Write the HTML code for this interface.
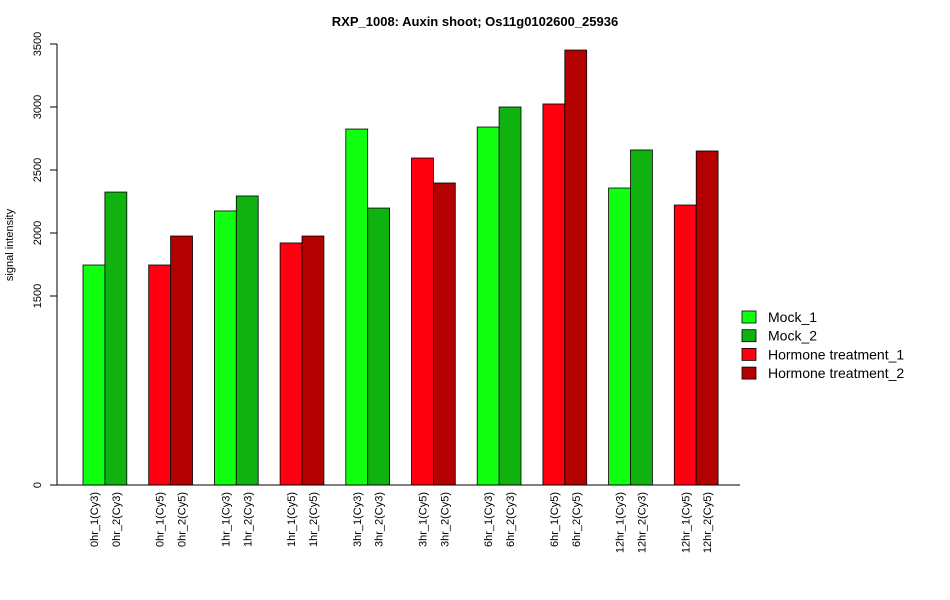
<!DOCTYPE html>
<html><head><meta charset="utf-8"><style>
body{margin:0;background:#fff}
svg{display:block;font-family:"Liberation Sans",Arial,sans-serif}
</style></head><body>
<svg id="c" width="950" height="600"></svg>
<script>
const categories=["0hr_1(Cy3)","0hr_2(Cy3)","0hr_1(Cy5)","0hr_2(Cy5)","1hr_1(Cy3)","1hr_2(Cy3)","1hr_1(Cy5)","1hr_2(Cy5)","3hr_1(Cy3)","3hr_2(Cy3)","3hr_1(Cy5)","3hr_2(Cy5)","6hr_1(Cy3)","6hr_2(Cy3)","6hr_1(Cy5)","6hr_2(Cy5)","12hr_1(Cy3)","12hr_2(Cy3)","12hr_1(Cy5)","12hr_2(Cy5)"];
const values=[1746,2325,1746,1976,2175,2294,1921,1976,2825,2198,2595,2397,2841,3000,3024,3452,2357,2659,2222,2651];
const seriesIdx=[0,1,2,3,0,1,2,3,0,1,2,3,0,1,2,3,0,1,2,3];
const seriesNames=["Mock_1","Mock_2","Hormone treatment_1","Hormone treatment_2"];
const seriesColors=["#11ff11","#0fb20f","#ff0010","#b30000"];
const yTicks=[0,1500,2000,2500,3000,3500];
const NS="http://www.w3.org/2000/svg",svg=document.getElementById('c');
function el(t,a,txt){const e=document.createElementNS(NS,t);for(const k in a)e.setAttribute(k,a[k]);if(txt!=null)e.textContent=txt;svg.appendChild(e);return e;}
const y0=485,yTop=44,yMax=3500;
const y=v=>y0-(v/yMax)*(y0-yTop);
const bw=21.9,startX=83;
const x=i=>startX+Math.floor(i/2)*bw*3+(i%2)*bw;
let t=el('text',{x:475,y:26,'text-anchor':'middle','font-size':13,'font-weight':'bold'},"RXP_1008: Auxin shoot; Os11g0102600_25936");

values.forEach((v,i)=>{
 const r=el('rect',{x:x(i),y:y(v),width:bw,height:y0-y(v),fill:seriesColors[seriesIdx[i]],stroke:'#000','stroke-width':0.8});
 
 
 const lx=x(i)+bw/2+4;
 const l=el('text',{x:lx,y:492,'font-size':11,'text-anchor':'end',transform:`rotate(-90 ${lx} 492)`},categories[i]);
 
 
});
let a=el('line',{x1:55,x2:740,y1:y0,y2:y0,stroke:'#000'});

a=el('line',{x1:57,x2:57,y1:y(3500),y2:y(0),stroke:'#000'});

yTicks.forEach(v=>{
 const tk=el('line',{x1:50,x2:57,y1:y(v),y2:y(v),stroke:'#000'});
 
 
 const tl=el('text',{x:41,y:y(v),'font-size':11,'text-anchor':'middle',transform:`rotate(-90 41 ${y(v)})`},String(v));
 
 
});
t=el('text',{x:13,y:245,'font-size':11,'text-anchor':'middle',transform:'rotate(-90 13 245)'},"signal intensity");

seriesNames.forEach((n,i)=>{
 const yy=317+i*18.7;
 const s=el('rect',{x:742,y:yy-6,width:14,height:12,fill:seriesColors[i],stroke:'#000','stroke-width':0.8});
 
 
 const lt=el('text',{x:768,y:yy+5,'font-size':14},n);
 
 
});
</script>
</body></html>
